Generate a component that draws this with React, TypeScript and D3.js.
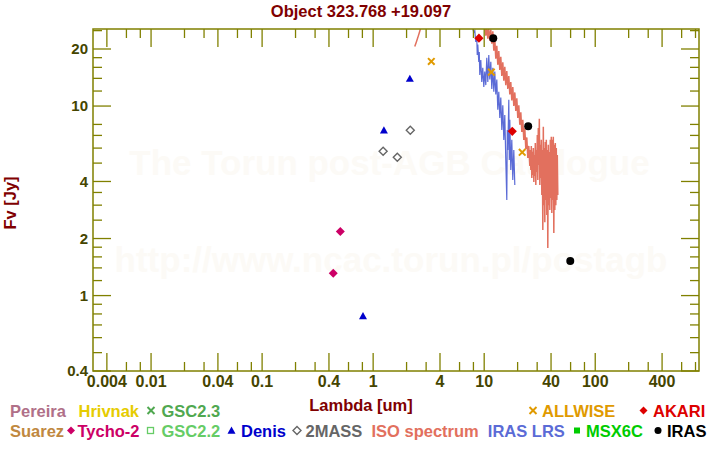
import React from "react";
import * as d3 from "d3";

type P = [number, number];

const TITLE = "Object 323.768 +19.097";
const X_TITLE = "Lambda [um]";
const Y_TITLE = "Fv [Jy]";
const WATERMARK_1 = "The Torun post-AGB Catalogue";
const WATERMARK_2 = "http://www.ncac.torun.pl/postagb";

const X_MAJOR = [0.004, 0.01, 0.04, 0.1, 0.4, 1, 4, 10, 40, 100, 400];
const X_MAJOR_LABELS = ["0.004", "0.01", "0.04", "0.1", "0.4", "1", "4", "10", "40", "100", "400"];
const X_MINOR = [0.006, 0.008, 0.02, 0.03, 0.06, 0.08, 0.2, 0.3, 0.6, 0.8, 2, 3, 6, 8, 20, 30, 60, 80, 200, 300, 600, 800];
const Y_MAJOR = [0.4, 1, 2, 4, 10, 20];
const Y_MAJOR_LABELS = ["0.4", "1", "2", "4", "10", "20"];
const Y_MINOR = [0.5, 0.6, 0.7, 0.8, 0.9, 1.2, 1.4, 1.6, 1.8, 2.5, 3, 3.5, 5, 6, 7, 8, 12, 14, 16, 18, 25];

const TYCHO2: P[] = [[0.437, 1.31], [0.506, 2.18]];
const DENIS: P[] = [[0.81, 0.78], [1.25, 7.45], [2.14, 13.95]];
const TWOMASS: P[] = [[1.23, 5.77], [1.65, 5.37], [2.16, 7.45]];
const ALLWISE: P[] = [[3.34, 17.2], [11.6, 15.1], [22.0, 5.7]];
const AKARI: P[] = [[8.97, 22.8], [17.9, 7.36]];
const IRAS: P[] = [[12.07, 22.8], [24.9, 7.82], [59.6, 1.52]];

const ISO_SPECTRUM: P[] = [
  [2.37, 20.6], [2.45, 21.8], [2.52, 22.9], [2.6, 24.3], [2.67, 25.6], [2.9, 30], [3.5, 40], [5, 55], [7, 50], [9, 35],
  [10.12, 27.2], [10.34, 23.5], [10.55, 26.2], [10.78, 22.7], [11.0, 25.6], [11.23, 22.1], [11.47, 25.3], [11.71, 21.3],
  [11.96, 24.8], [12.21, 19.6], [12.46, 22.7], [12.72, 17.8], [12.99, 20.8], [13.26, 16.5], [13.54, 19.5], [13.82, 15.5],
  [14.11, 18.2], [14.41, 14.4], [14.71, 17.0], [15.02, 13.6], [15.33, 16.1], [15.65, 12.9], [15.98, 15.3], [16.32, 12.3],
  [16.66, 14.4], [17.01, 11.5], [17.36, 13.4], [17.73, 10.7], [18.1, 12.6], [18.48, 10.0], [18.87, 11.8], [19.26, 9.43],
  [19.67, 11.0], [20.08, 8.66], [20.5, 10.1], [20.93, 7.96], [21.37, 9.26], [21.82, 7.3], [22.27, 8.46], [22.74, 6.63],
  [23.22, 7.62], [23.71, 5.94], [24.2, 6.83], [24.71, 5.32], [25.23, 6.16], [25.76, 4.83],
  [26.02, 5.87], [26.3, 4.6], [26.57, 6.16], [26.85, 4.17], [27.13, 5.73], [27.41, 4.33], [27.7, 6.01], [27.99, 3.98],
  [28.28, 5.52], [28.57, 4.28], [28.87, 6.39], [29.17, 3.83], [29.47, 5.87], [29.78, 4.49], [30.09, 7.04], [30.41, 4.07],
  [30.72, 7.67], [31.04, 4.89], [31.37, 8.56], [31.7, 3.83], [32.03, 6.24], [32.36, 4.17], [32.7, 6.63], [33.04, 3.39],
  [33.38, 5.87], [33.73, 2.22], [34.08, 7.77], [34.44, 3.0], [34.8, 6.01], [35.16, 2.44], [35.52, 6.47], [35.89, 3.19],
  [36.26, 6.63], [36.64, 2.66], [37.02, 5.87], [37.41, 1.78], [37.79, 6.24], [38.2, 3.0], [38.59, 5.73], [39.0, 2.83],
  [39.4, 6.63], [39.81, 3.27], [40.22, 6.88], [40.64, 2.73], [41.07, 6.63], [41.5, 3.19], [41.93, 6.88], [42.37, 2.14],
  [42.81, 6.24], [43.25, 2.83], [43.71, 6.39], [44.16, 3.0], [44.62, 6.01], [45.1, 3.19], [45.56, 5.52], [46.03, 3.39],
];

const IRAS_LRS: P[] = [
  [7.7, 27], [7.9, 25.6], [8.06, 24.4], [8.23, 25.0], [8.4, 21.8], [8.58, 22.9], [8.66, 18.6], [8.76, 21.1], [8.94, 17.1],
  [9.03, 19.3], [9.13, 14.6], [9.32, 17.5], [9.51, 13.4], [9.71, 15.9], [9.92, 12.6], [10.12, 15.2], [10.34, 12.9],
  [10.55, 18.0], [10.78, 13.4], [11.0, 18.6], [11.23, 13.8], [11.47, 17.1], [11.71, 12.3], [11.96, 15.9], [12.21, 11.9],
  [12.46, 15.2], [12.72, 11.5], [12.99, 13.8], [13.26, 9.55], [13.54, 11.9], [13.82, 8.66], [14.11, 11.1], [14.41, 7.48],
  [14.71, 10.1], [15.02, 6.63], [15.33, 8.98], [15.65, 5.2], [15.98, 3.19], [16.15, 7.48], [16.32, 5.87], [16.66, 10.8],
  [16.83, 5.2], [17.01, 8.46], [17.36, 4.6], [17.73, 6.63], [18.1, 4.07], [18.48, 5.87], [18.87, 3.83],
];

const LEGEND_ROW1 = ["Pereira", "Hrivnak", "GSC2.3", "ALLWISE", "AKARI"];
const LEGEND_ROW2 = ["Suarez", "Tycho-2", "GSC2.2", "Denis", "2MASS", "ISO spectrum", "IRAS LRS", "MSX6C", "IRAS"];

const COLORS: Record<string, string> = {
  Pereira: "#b07088",
  Hrivnak: "#e6cc00",
  "GSC2.3": "#50a850",
  ALLWISE: "#e09a00",
  AKARI: "#dd0000",
  Suarez: "#c08840",
  "Tycho-2": "#cc0066",
  "GSC2.2": "#66cc66",
  Denis: "#0000cc",
  "2MASS": "#666666",
  "ISO spectrum": "#e2705e",
  "IRAS LRS": "#5b6bd6",
  MSX6C: "#00cc00",
  IRAS: "#000000",
};

const LEGEND_LAYOUT: Record<string, { m?: number; t: number; mk?: string }> = {
  Pereira: { t: 10 },
  Hrivnak: { t: 78.5 },
  "GSC2.3": { m: 151, t: 161.5, mk: "x" },
  ALLWISE: { m: 533, t: 542, mk: "x" },
  AKARI: { m: 643.5, t: 653, mk: "diamond" },
  Suarez: { t: 10 },
  "Tycho-2": { m: 71, t: 77.5, mk: "diamond" },
  "GSC2.2": { m: 150.5, t: 161.5, mk: "osquare" },
  Denis: { m: 231.5, t: 241, mk: "triangle" },
  "2MASS": { m: 297, t: 305.5, mk: "odiamond" },
  "ISO spectrum": { t: 371.5 },
  "IRAS LRS": { t: 487.8 },
  MSX6C: { m: 577, t: 586, mk: "square" },
  IRAS: { m: 658, t: 667, mk: "circle" },
};

const FONT = "'Liberation Sans', Arial, sans-serif";
const AXIS = "#808000";
const TICKTXT = "#454500";
const DARKRED = "#800000";

function marker(kind: string, cx: number, cy: number, s: number, color: string, key: string) {
  switch (kind) {
    case "diamond":
      return <polygon key={key} points={`${cx},${cy - s} ${cx + s},${cy} ${cx},${cy + s} ${cx - s},${cy}`} fill={color} />;
    case "odiamond":
      return (
        <polygon key={key} points={`${cx},${cy - s} ${cx + s},${cy} ${cx},${cy + s} ${cx - s},${cy}`} fill="none" stroke={color} strokeWidth={1.4} />
      );
    case "triangle":
      return <polygon key={key} points={`${cx},${cy - s} ${cx + s},${cy + s * 0.8} ${cx - s},${cy + s * 0.8}`} fill={color} />;
    case "x":
      return (
        <g key={key} stroke={color} strokeWidth={2}>
          <line x1={cx - s} y1={cy - s} x2={cx + s} y2={cy + s} />
          <line x1={cx - s} y1={cy + s} x2={cx + s} y2={cy - s} />
        </g>
      );
    case "circle":
      return <circle key={key} cx={cx} cy={cy} r={s} fill={color} />;
    case "square":
      return <rect key={key} x={cx - s} y={cy - s} width={2 * s} height={2 * s} fill={color} />;
    case "osquare":
      return <rect key={key} x={cx - s} y={cy - s} width={2 * s} height={2 * s} fill="none" stroke={color} strokeWidth={1.3} />;
    default:
      return null;
  }
}

export default function App() {
  const W = 720;
  const H = 450;
  const L = 93, R = 699, T = 29, B = 371;
  const x = d3.scaleLog().domain([0.003, 860]).range([L, R]);
  const y = d3.scaleLog().domain([0.4, 25.5]).range([B, T]);
  const line = d3.line<P>().x((d) => x(d[0])).y((d) => y(d[1]));

  const legendRow = (names: string[], baseline: number, center: number) =>
    names.map((n) => {
      const lay = LEGEND_LAYOUT[n];
      const c = COLORS[n];
      return (
        <g key={n}>
          {lay.m !== undefined && lay.mk
            ? marker(lay.mk, lay.m, center, lay.mk === "circle" ? 3.5 : lay.mk === "x" ? 3.5 : lay.mk === "square" || lay.mk === "osquare" ? 3 : 4, c, n + "m")
            : null}
          <text x={lay.t} y={baseline} fill={c} fontSize={16.5} fontWeight="bold" fontFamily={FONT}>
            {n}
          </text>
        </g>
      );
    });

  return (
    <svg width={W} height={H} style={{ position: "absolute", left: 0, top: 0, background: "#fff" }}>
      <rect width={W} height={H} fill="#fff" />
      <defs>
        <clipPath id="plotclip">
          <rect x={L} y={T} width={R - L} height={B - T} />
        </clipPath>
      </defs>
      <text x={389.5} y={175} textAnchor="middle" fontSize={35} fontWeight="bold" fontFamily={FONT} fill="#fcfaf6">
        {WATERMARK_1}
      </text>
      <text x={391} y={272} textAnchor="middle" fontSize={35} fontWeight="bold" fontFamily={FONT} fill="#fcfaf6">
        {WATERMARK_2}
      </text>

      <text x={361} y={17} textAnchor="middle" fontSize={16.5} fontWeight="bold" fontFamily={FONT} fill={DARKRED}>
        {TITLE}
      </text>

      <g clipPath="url(#plotclip)">
        <path d={line(ISO_SPECTRUM) || ""} fill="none" stroke={COLORS["ISO spectrum"]} strokeWidth={1.5} />
        <path d={line(IRAS_LRS) || ""} fill="none" stroke={COLORS["IRAS LRS"]} strokeWidth={1.2} />
        {TYCHO2.map((d, i) => marker("diamond", x(d[0]), y(d[1]), 4.5, COLORS["Tycho-2"], "ty" + i))}
        {DENIS.map((d, i) => marker("triangle", x(d[0]), y(d[1]), 4, COLORS["Denis"], "de" + i))}
        {TWOMASS.map((d, i) => marker("odiamond", x(d[0]), y(d[1]), 4, COLORS["2MASS"], "tm" + i))}
        {ALLWISE.map((d, i) => marker("x", x(d[0]), y(d[1]), 3.3, COLORS["ALLWISE"], "aw" + i))}
        {AKARI.map((d, i) => marker("diamond", x(d[0]), y(d[1]), 4.6, COLORS["AKARI"], "ak" + i))}
        {IRAS.map((d, i) => marker("circle", x(d[0]), y(d[1]), 4, COLORS["IRAS"], "ir" + i))}
      </g>

      <rect x={L} y={T} width={R - L} height={B - T} fill="none" stroke={AXIS} strokeWidth={1.5} />
      <g stroke={AXIS} strokeWidth={1.3}>
        {X_MAJOR.map((v) => (
          <g key={"xM" + v}>
            <line x1={x(v)} x2={x(v)} y1={B} y2={B - 18} />
            <line x1={x(v)} x2={x(v)} y1={T} y2={T + 18} />
          </g>
        ))}
        {X_MINOR.map((v) => (
          <g key={"xm" + v}>
            <line x1={x(v)} x2={x(v)} y1={B} y2={B - 9} />
            <line x1={x(v)} x2={x(v)} y1={T} y2={T + 9} />
          </g>
        ))}
        {Y_MAJOR.map((v) => (
          <g key={"yM" + v}>
            <line x1={L} x2={L + 18} y1={y(v)} y2={y(v)} />
            <line x1={R} x2={R - 18} y1={y(v)} y2={y(v)} />
          </g>
        ))}
        {Y_MINOR.map((v) => (
          <g key={"ym" + v}>
            <line x1={L} x2={L + 9} y1={y(v)} y2={y(v)} />
            <line x1={R} x2={R - 9} y1={y(v)} y2={y(v)} />
          </g>
        ))}
      </g>

      {X_MAJOR.map((v, i) => (
        <text key={"xl" + v} x={x(v)} y={387} textAnchor="middle" fontSize={16} fontWeight="bold" fontFamily={FONT} fill={TICKTXT}>
          {X_MAJOR_LABELS[i]}
        </text>
      ))}
      {Y_MAJOR.map((v, i) => (
        <text key={"yl" + v} x={88} y={y(v) + 5.4} textAnchor="end" fontSize={15} fontWeight="bold" fontFamily={FONT} fill={TICKTXT}>
          {Y_MAJOR_LABELS[i]}
        </text>
      ))}

      <text x={361} y={410.5} textAnchor="middle" fontSize={16.5} fontWeight="bold" fontFamily={FONT} fill={DARKRED}>
        {X_TITLE}
      </text>
      <text transform="translate(16,203) rotate(-90)" textAnchor="middle" fontSize={16.5} fontWeight="bold" fontFamily={FONT} fill={DARKRED}>
        {Y_TITLE}
      </text>

      {legendRow(LEGEND_ROW1, 416.7, 410.5)}
      {legendRow(LEGEND_ROW2, 436.7, 430.5)}
    </svg>
  );
}
